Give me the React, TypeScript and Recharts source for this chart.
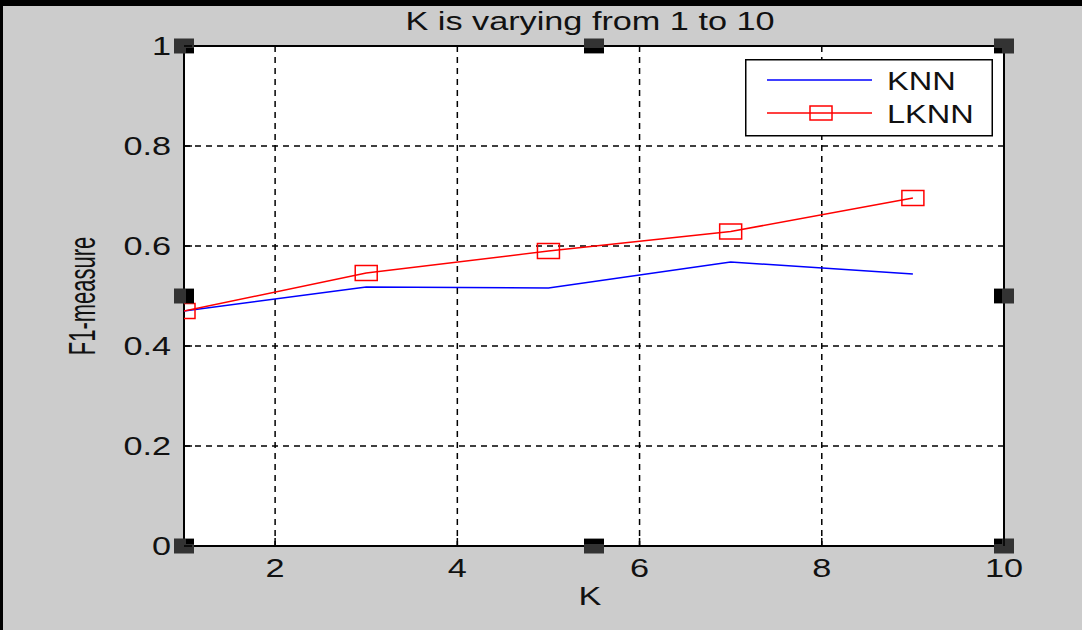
import React from 'react';
import {
  LineChart,
  Line,
  XAxis,
  YAxis,
  CartesianGrid,
  ReferenceArea,
  ReferenceDot,
} from 'recharts';

const kValues = [1, 3, 5, 7, 9];
const knnScores = [0.47, 0.518, 0.516, 0.568, 0.544];
const lknnScores = [0.47, 0.546, 0.59, 0.629, 0.696];

const xTicks = [2, 4, 6, 8, 10];
const yTicks = [0, 0.2, 0.4, 0.6, 0.8, 1];

// MATLAB selection handles on the axes box
const handleX = [1, 5.5, 10, 1, 10, 1, 5.5, 10];
const handleY = [1, 1, 1, 0.5, 0.5, 0, 0, 0];

const data = kValues.map((k, i) => ({ k, knn: knnScores[i], lknn: lknnScores[i] }));

const FONT = '"Liberation Sans", Arial, sans-serif';
const STRETCH = 1.37;
const TEXT = '#111';

function fmtY(v: number) {
  if (v === 0) return '0';
  if (v === 1) return '1';
  return v.toFixed(1);
}

function BottomTick({ x, y, payload }: any) {
  return (
    <g>
      <line x1={x} y1={y} x2={x} y2={y - 8} stroke="#000" strokeWidth={1.5} />
      <text
        transform={`translate(${x},${y + 31}) scale(${STRETCH},1)`}
        textAnchor="middle"
        fontFamily={FONT}
        fontSize={25}
        fill={TEXT}
      >
        {payload.value}
      </text>
    </g>
  );
}

function LeftTick({ x, y, payload }: any) {
  return (
    <g>
      <line x1={x} y1={y} x2={x + 8} y2={y} stroke="#000" strokeWidth={1.5} />
      <text
        transform={`translate(${x - 13},${y + 9}) scale(${STRETCH},1)`}
        textAnchor="end"
        fontFamily={FONT}
        fontSize={25}
        fill={TEXT}
      >
        {fmtY(payload.value)}
      </text>
    </g>
  );
}

function TopTick({ x, y }: any) {
  return <line x1={x} y1={y} x2={x} y2={y + 8} stroke="#000" strokeWidth={1.5} />;
}

function RightTick({ x, y }: any) {
  return <line x1={x} y1={y} x2={x - 8} y2={y} stroke="#000" strokeWidth={1.5} />;
}

function SquareDot({ cx, cy, index }: any) {
  if (cx == null || cy == null) return null;
  return (
    <rect
      key={index}
      x={cx - 11}
      y={cy - 7.5}
      width={22}
      height={15}
      fill="none"
      stroke="#ff0000"
      strokeWidth={1.5}
    />
  );
}

function makeHandle(hx: number, hy: number) {
  const dx = hx === 1 ? 1 : hx === 10 ? -1 : 0;
  const dy = hy === 1 ? 1 : hy === 0 ? -1 : 0;
  return ({ cx, cy }: any) => {
    const bx0 = dx > 0 ? cx + 2 : dx < 0 ? cx - 10 : cx - 10;
    const bx1 = dx > 0 ? cx + 10 : dx < 0 ? cx - 2 : cx + 10;
    const by0 = dy > 0 ? cy + 2 : dy < 0 ? cy - 7 : cy - 7;
    const by1 = dy > 0 ? cy + 7 : dy < 0 ? cy - 2 : cy + 7;
    return (
      <g>
        <rect x={cx - 10} y={cy - 7.5} width={20} height={15} fill="#333" />
        <rect x={bx0} y={by0} width={bx1 - bx0} height={by1 - by0} fill="#000" />
      </g>
    );
  };
}

function LegendBox() {
  return (
    <svg width={248} height={78} style={{ display: 'block' }}>
      <rect x={0.75} y={0.75} width={246.5} height={76} fill="#fff" stroke="#000" strokeWidth={1.5} />
      <line x1={22} y1={21} x2={127} y2={21} stroke="#0000ff" strokeWidth={1.5} />
      <text transform={`translate(142,31) scale(${STRETCH * 0.95},1)`} fontFamily={FONT} fontSize={25} fill={TEXT}>
        KNN
      </text>
      <line x1={22} y1={54} x2={127} y2={54} stroke="#ff0000" strokeWidth={1.5} />
      <rect x={65} y={47} width={22} height={14} fill="none" stroke="#ff0000" strokeWidth={1.5} />
      <text transform={`translate(142,64) scale(${STRETCH * 0.95},1)`} fontFamily={FONT} fontSize={25} fill={TEXT}>
        LKNN
      </text>
    </svg>
  );
}

export default function App() {
  return (
    <div style={{ position: 'absolute', left: 0, top: 0, width: 1082, height: 630, background: '#cccccc', overflow: 'hidden' }}>
      <div style={{ position: 'absolute', left: 0, top: 0 }}>
        <LineChart width={1082} height={630} data={data} margin={{ top: 46, right: 78, bottom: 44, left: 84 }}>
          <CartesianGrid stroke="#000" strokeWidth={1.5} strokeDasharray="6 5" fill="#fff" fillOpacity={1} />
          <XAxis
            dataKey="k"
            type="number"
            domain={[1, 10]}
            ticks={xTicks}
            allowDataOverflow
            axisLine={false}
            tickLine={false}
            tickSize={0}
            tickMargin={0}
            height={40}
            tick={<BottomTick />}
            interval={0}
            label={{
              content: ({ viewBox }: any) => (
                <text
                  transform={`translate(${viewBox.x + viewBox.width / 2 - 4},${viewBox.y + 59}) scale(${STRETCH},1)`}
                  textAnchor="middle"
                  fontFamily={FONT}
                  fontSize={25}
                  fill={TEXT}
                >
                  K
                </text>
              ),
            }}
          />
          <XAxis
            xAxisId="top"
            orientation="top"
            dataKey="k"
            type="number"
            domain={[1, 10]}
            ticks={[2, 4, 6, 8]}
            axisLine={false}
            tickLine={false}
            tickSize={0}
            tickMargin={0}
            height={0}
            tick={<TopTick />}
            interval={0}
          />
          <YAxis
            type="number"
            domain={[0, 1]}
            ticks={yTicks}
            axisLine={false}
            tickLine={false}
            tickSize={0}
            tickMargin={0}
            width={100}
            tick={<LeftTick />}
            interval={0}
            label={{
              content: ({ viewBox }: any) => (
                <text
                  transform={`translate(${viewBox.x + 11},${viewBox.y + viewBox.height / 2}) scale(1.7,1) rotate(-90)`}
                  textAnchor="middle"
                  fontFamily={FONT}
                  fontSize={22}
                  fill={TEXT}
                >
                  F1-measure
                </text>
              ),
            }}
          />
          <YAxis
            yAxisId="right"
            orientation="right"
            type="number"
            domain={[0, 1]}
            ticks={[0.2, 0.4, 0.6, 0.8]}
            axisLine={false}
            tickLine={false}
            tickSize={0}
            tickMargin={0}
            width={0}
            tick={<RightTick />}
            interval={0}
          />
          <ReferenceArea x1={1} x2={10} y1={0} y2={1} fill="none" stroke="#000" strokeWidth={2} />
          <Line
            dataKey="knn"
            name="KNN"
            type="linear"
            stroke="#0000ff"
            strokeWidth={1.5}
            dot={false}
            activeDot={false}
            isAnimationActive={false}
          />
          <Line
            dataKey="lknn"
            name="LKNN"
            type="linear"
            stroke="#ff0000"
            strokeWidth={1.5}
            dot={<SquareDot />}
            activeDot={false}
            isAnimationActive={false}
          />
          {handleX.map((hx, i) => (
            <ReferenceDot key={i} x={hx} y={handleY[i]} r={1} shape={makeHandle(hx, handleY[i])} ifOverflow="visible" />
          ))}
        </LineChart>
      </div>
      <svg width={1082} height={40} style={{ position: 'absolute', left: 0, top: 0 }}>
        <rect x={0} y={0} width={1082} height={6} fill="#000" />
        <text
          transform={`translate(590,30) scale(${STRETCH},1)`}
          textAnchor="middle"
          fontFamily={FONT}
          fontSize={25}
          fill={TEXT}
        >
          K is varying from 1 to 10
        </text>
      </svg>
      <div style={{ position: 'absolute', left: 0, top: 0, width: 3, height: 630, background: '#000' }} />
      <div style={{ position: 'absolute', left: 745, top: 59 }}>
        <LegendBox />
      </div>
    </div>
  );
}
